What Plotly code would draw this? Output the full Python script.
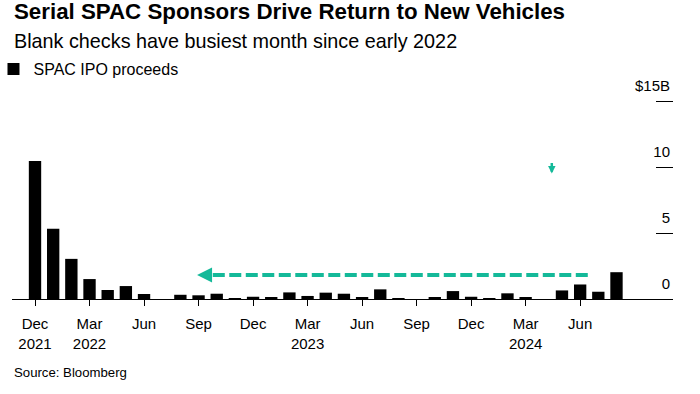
import plotly.graph_objects as go

# ---- data ----
months = ["Dec 2021", "Jan 2022", "Feb 2022", "Mar 2022", "Apr 2022", "May 2022", "Jun 2022",
          "Jul 2022", "Aug 2022", "Sep 2022", "Oct 2022", "Nov 2022", "Dec 2022",
          "Jan 2023", "Feb 2023", "Mar 2023", "Apr 2023", "May 2023", "Jun 2023",
          "Jul 2023", "Aug 2023", "Sep 2023", "Oct 2023", "Nov 2023", "Dec 2023",
          "Jan 2024", "Feb 2024", "Mar 2024", "Apr 2024", "May 2024", "Jun 2024",
          "Jul 2024", "Aug 2024"]
proceeds = [10.45, 5.33, 3.04, 1.51, 0.68, 0.98, 0.38,
            0.0, 0.32, 0.28, 0.40, 0.05, 0.17,
            0.13, 0.50, 0.23, 0.48, 0.40, 0.15,
            0.73, 0.05, 0.0, 0.15, 0.60, 0.17,
            0.05, 0.43, 0.15, 0.0, 0.65, 1.10,
            0.55, 2.03]
tick_months = ["Dec 2021", "Mar 2022", "Jun 2022", "Sep 2022", "Dec 2022", "Mar 2023",
               "Jun 2023", "Sep 2023", "Dec 2023", "Mar 2024", "Jun 2024"]
tick_labels = ["Dec<br>2021", "Mar<br>2022", "Jun", "Sep", "Dec", "Mar<br>2023",
               "Jun", "Sep", "Dec", "Mar<br>2024", "Jun"]
y_tickvals = [0, 5, 10, 15]
y_ticktext = ["0", "5", "10", "$15B"]

# annotation arrows (data coordinates: month index, $B)
dash_arrow_from = 30.42
dash_arrow_to = 8.92
dash_arrow_y = 1.82
down_arrow_x = 28.44
down_arrow_y = 9.5

TEAL = "#14b999"
FONT = "Liberation Sans, Arial, sans-serif"

xpos = list(range(len(months)))
tickpos = [months.index(m) for m in tick_months]

fig = go.Figure()
fig.add_trace(go.Bar(x=xpos, y=proceeds, name="SPAC IPO proceeds",
                     marker=dict(color="#000000", line=dict(width=0)),
                     width=0.68, showlegend=True))

# dashed teal arrow shaft
fig.add_trace(go.Scatter(x=[dash_arrow_from, dash_arrow_to + 0.55], y=[dash_arrow_y, dash_arrow_y],
                         mode="lines", line=dict(color=TEAL, width=4, dash="12px,4.5px"),
                         showlegend=False, hoverinfo="skip"))

fig.add_annotation(x=dash_arrow_to, y=dash_arrow_y, ax=dash_arrow_to + 0.6, ay=dash_arrow_y,
                   xref="x", yref="y", axref="x", ayref="y", text="", showarrow=True,
                   arrowhead=2, arrowsize=0.75, arrowwidth=4, arrowcolor=TEAL)
fig.add_annotation(x=down_arrow_x, y=down_arrow_y, ax=0, ay=-12, xref="x", yref="y",
                   text="", showarrow=True, arrowhead=2, arrowsize=0.6, arrowwidth=2.5,
                   arrowcolor=TEAL)

PLOT_TOP, PLOT_BOT = 95, 299
H = PLOT_BOT - PLOT_TOP
def py(p):
    return (PLOT_BOT - p) / H

fig.add_annotation(text="Serial SPAC Sponsors Drive Return to New Vehicles", x=0, y=py(11.5),
                   xref="paper", yref="paper", xanchor="left", yanchor="middle", showarrow=False,
                   font=dict(family=FONT, size=22.3, color="#000", weight=700))
fig.add_annotation(text="Blank checks have busiest month since early 2022", x=0, y=py(41),
                   xref="paper", yref="paper", xanchor="left", yanchor="middle", showarrow=False,
                   font=dict(family=FONT, size=19.8, color="#000"))
fig.add_annotation(text="Source: Bloomberg", x=0, y=py(372),
                   xref="paper", yref="paper", xanchor="left", yanchor="middle", showarrow=False,
                   font=dict(family=FONT, size=13.2, color="#000"))

x0 = -1.266
x1 = 35.11
fig.update_layout(
    width=700, height=394,
    margin=dict(l=12, r=27, t=PLOT_TOP, b=394 - PLOT_BOT, autoexpand=False),
    paper_bgcolor="#ffffff", plot_bgcolor="#ffffff",
    font=dict(family=FONT, size=15, color="#000"),
    showlegend=True,
    legend=dict(x=-0.028, y=py(69), xanchor="left", yanchor="middle", orientation="h",
                font=dict(family=FONT, size=16, color="#000"), bgcolor="rgba(0,0,0,0)"),
    xaxis=dict(range=[x0, x1], tickmode="array", tickvals=tickpos, ticktext=tick_labels,
               showline=True, linecolor="#000", linewidth=1, ticks="outside", ticklen=6,
               tickcolor="#000", tickwidth=1, showgrid=False, zeroline=False,
               ticklabelstandoff=5,
               tickfont=dict(family=FONT, size=15, color="#000"), fixedrange=True),
    yaxis=dict(range=[0, H / 13.2], side="right", tickmode="array", tickvals=y_tickvals,
               ticktext=y_ticktext, ticks="inside", ticklen=17, tickcolor="#000", tickwidth=1,
               ticklabelposition="inside top", ticklabeloverflow="allow", ticklabelshift=-4,
               showgrid=False, zeroline=False, showline=False,
               tickfont=dict(family=FONT, size=15, color="#000"), fixedrange=True),
    bargap=0.32,
)

fig.write_html("out.html", config={"displayModeBar": False},
               post_script="document.body.style.margin='0';document.body.style.overflow='hidden';")
